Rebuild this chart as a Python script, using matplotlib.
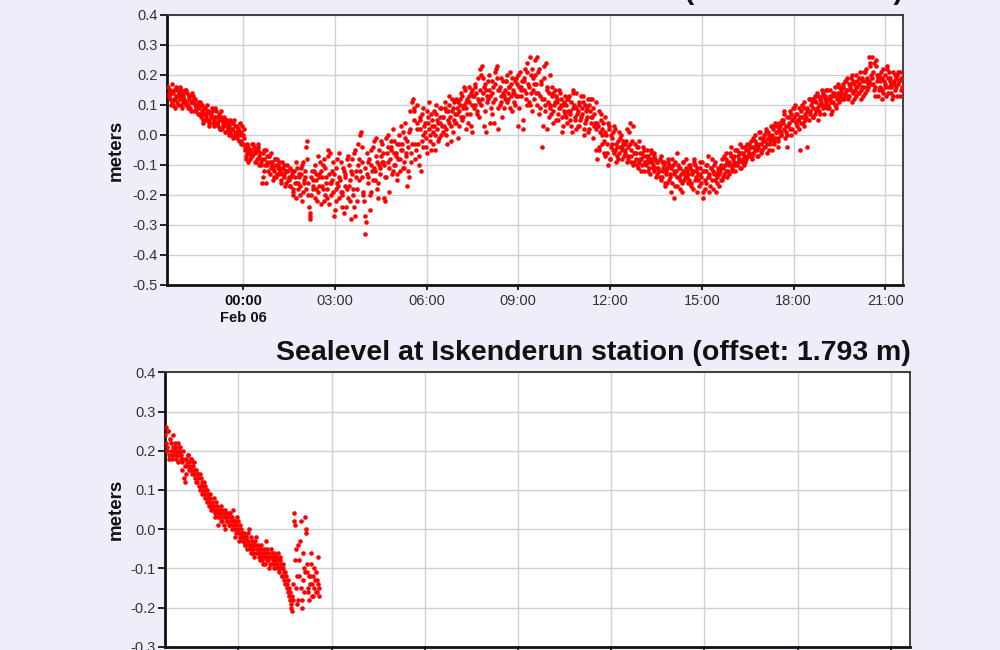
import matplotlib
matplotlib.use("Agg")
import matplotlib.pyplot as plt
import numpy as np
import pandas as pd

# ---------------- data ----------------
top_title = "Sealevel at Erdemli station (offset: 1.000 m)"
bottom_title = "Sealevel at Iskenderun station (offset: 1.793 m)"
ylabel = "meters"

# top station: one row per hour, 3-minute samples, first sample 2023-02-05 21:33
top_start = "2023-02-05 21:33:00"
top_step_min = 3
top_rows = [
    [0.16, 0.12, 0.14, 0.10, 0.15, 0.13, 0.11, 0.14, 0.12, 0.09, 0.13, 0.15, 0.11, 0.10, 0.13, 0.08, 0.11, 0.12, 0.09, 0.10],
    [0.07, 0.10, 0.08, 0.05, 0.09, 0.06, 0.08, 0.04, 0.07, 0.06, 0.03, 0.06, 0.04, 0.07, 0.02, 0.05, 0.03, 0.05, 0.01, 0.04],
    [0.03, 0.00, 0.02, 0.05, 0.01, -0.01, 0.02, 0.00, -0.02, -0.03, -0.05, -0.08, -0.04, -0.06, -0.05, -0.07, -0.04, -0.06, -0.08, -0.05],
    [-0.06, -0.09, -0.14, -0.08, -0.05, -0.10, -0.07, -0.11, -0.09, -0.12, -0.08, -0.13, -0.10, -0.12, -0.15, -0.11, -0.13, -0.16, -0.12, -0.14],
    [-0.17, -0.13, -0.19, -0.14, -0.11, -0.16, -0.20, -0.13, -0.09, -0.15, -0.18, -0.02, -0.24, -0.28, -0.12, -0.17, -0.10, -0.15, -0.19, -0.13],
    [-0.12, -0.18, -0.08, -0.16, -0.21, -0.13, -0.06, -0.15, -0.19, -0.25, -0.11, -0.17, -0.14, -0.09, -0.20, -0.26, -0.13, -0.18, -0.10, -0.22],
    [-0.08, -0.20, -0.27, -0.12, -0.03, -0.15, 0.01, -0.09, -0.22, -0.33, -0.06, -0.14, -0.25, -0.10, -0.04, -0.12, -0.07, -0.16, -0.05, -0.02],
    [-0.03, -0.10, -0.22, -0.06, 0.00, -0.08, -0.04, -0.12, -0.02, -0.07, -0.15, -0.03, 0.03, -0.05, -0.09, -0.01, -0.17, -0.04, 0.02, -0.06],
    [0.12, 0.08, -0.05, 0.02, -0.10, 0.05, -0.02, 0.09, 0.01, -0.06, 0.04, 0.00, 0.07, -0.03, 0.03, 0.10, 0.02, -0.01, 0.06, 0.03],
    [0.06, 0.11, 0.02, 0.08, 0.04, -0.02, 0.09, 0.05, 0.12, 0.07, 0.03, 0.10, 0.13, 0.06, 0.15, 0.09, 0.04, 0.11, 0.14, 0.01],
    [0.13, 0.16, 0.08, 0.11, 0.22, 0.23, 0.14, 0.17, 0.01, 0.12, 0.15, 0.09, 0.18, 0.04, 0.21, 0.23, 0.02, 0.16, 0.11, 0.14],
    [0.15, 0.18, 0.12, 0.16, 0.13, 0.19, 0.14, 0.10, 0.17, 0.13, 0.21, 0.16, 0.05, 0.19, 0.14, 0.24, 0.11, 0.20, 0.08, 0.17],
    [0.20, 0.26, 0.14, 0.09, 0.18, 0.03, 0.12, 0.24, 0.16, 0.06, 0.10, 0.13, 0.08, 0.15, 0.11, 0.05, 0.09, 0.12, 0.03, 0.08],
    [0.10, 0.04, 0.13, 0.07, 0.01, 0.09, 0.05, 0.14, 0.08, 0.03, 0.06, 0.11, 0.00, 0.05, 0.09, 0.02, 0.12, 0.06, -0.01, 0.04],
    [0.11, 0.03, -0.04, 0.05, 0.00, -0.02, 0.06, -0.06, 0.02, -0.08, -0.03, 0.01, -0.05, -0.09, -0.02, -0.06, 0.00, -0.04, -0.07, -0.03],
    [0.02, -0.08, 0.04, -0.05, -0.10, -0.03, -0.06, -0.11, -0.02, -0.08, -0.06, -0.12, -0.09, -0.05, -0.07, -0.13, -0.08, -0.10, -0.06, -0.11],
    [-0.09, -0.12, -0.07, -0.14, -0.10, -0.17, -0.11, -0.08, -0.13, -0.19, -0.10, -0.21, -0.12, -0.06, -0.14, -0.11, -0.16, -0.09, -0.13, -0.12],
    [-0.13, -0.10, -0.16, -0.12, -0.08, -0.14, -0.11, -0.17, -0.13, -0.09, -0.21, -0.15, -0.12, -0.07, -0.14, -0.11, -0.18, -0.10, -0.13, -0.16],
    [-0.17, -0.12, -0.08, -0.14, -0.10, -0.06, -0.12, -0.09, -0.04, -0.11, -0.07, -0.10, -0.05, -0.08, -0.03, -0.09, -0.06, -0.04, -0.08, -0.05],
    [-0.06, -0.02, -0.08, -0.04, 0.00, -0.05, -0.03, 0.01, -0.06, -0.02, -0.04, 0.02, -0.01, -0.05, 0.03, 0.00, -0.03, 0.04, 0.01, -0.02],
    [0.03, 0.00, 0.05, 0.08, 0.01, -0.04, 0.04, 0.07, 0.02, 0.06, 0.10, 0.03, 0.05, -0.05, 0.08, 0.04, 0.11, 0.06, 0.09, 0.05],
    [0.08, 0.11, 0.06, 0.13, 0.09, 0.05, 0.12, 0.10, 0.14, 0.07, 0.11, 0.15, 0.09, 0.12, 0.08, 0.13, 0.16, 0.10, 0.14, 0.11],
    [0.14, 0.17, 0.12, 0.15, 0.19, 0.13, 0.16, 0.11, 0.18, 0.15, 0.20, 0.14, 0.17, 0.12, 0.19, 0.16, 0.21, 0.15, 0.18, 0.24],
    [0.26, 0.17, 0.13, 0.25, 0.19, 0.15, 0.21, 0.12, 0.18, 0.16, 0.22, 0.14, 0.19, 0.17, 0.13, 0.20, 0.16, 0.21, 0.18, 0.15],
]
# interleaved samples of the same station, 1.5 minutes after each of the above
top_start_b = "2023-02-05 21:34:30"
top_rows_b = [
    [0.13, 0.15, 0.11, 0.14, 0.12, 0.16, 0.10, 0.13, 0.15, 0.11, 0.12, 0.10, 0.14, 0.12, 0.09, 0.11, 0.13, 0.10, 0.08, 0.11],
    [0.09, 0.06, 0.10, 0.07, 0.05, 0.08, 0.05, 0.07, 0.09, 0.04, 0.06, 0.08, 0.03, 0.05, 0.06, 0.02, 0.04, 0.01, 0.03, 0.02],
    [0.01, 0.04, -0.01, 0.03, 0.00, 0.02, -0.02, 0.01, 0.03, -0.01, -0.04, -0.06, -0.09, -0.05, -0.07, -0.03, -0.06, -0.09, -0.04, -0.07],
    [-0.08, -0.16, -0.05, -0.10, -0.07, -0.12, -0.09, -0.06, -0.11, -0.14, -0.10, -0.08, -0.13, -0.11, -0.09, -0.14, -0.12, -0.10, -0.15, -0.17],
    [-0.14, -0.18, -0.12, -0.21, -0.16, -0.13, -0.17, -0.10, -0.19, -0.14, -0.04, -0.16, -0.27, -0.20, -0.15, -0.12, -0.18, -0.22, -0.14, -0.09],
    [-0.17, -0.10, -0.20, -0.14, -0.07, -0.23, -0.16, -0.12, -0.27, -0.18, -0.08, -0.21, -0.15, -0.19, -0.11, -0.14, -0.24, -0.07, -0.17, -0.28],
    [-0.13, -0.24, -0.05, -0.18, -0.10, 0.00, -0.14, -0.20, -0.11, -0.29, -0.16, -0.08, -0.19, -0.12, -0.02, -0.15, -0.09, -0.21, -0.11, -0.07],
    [-0.09, -0.21, -0.14, -0.04, -0.11, -0.02, -0.13, -0.06, -0.10, -0.03, -0.08, -0.12, -0.05, 0.01, -0.11, -0.06, -0.02, -0.14, 0.08, -0.03],
    [0.09, -0.08, 0.04, -0.03, 0.06, -0.12, 0.00, 0.03, -0.04, 0.08, 0.02, -0.02, 0.05, 0.01, -0.05, 0.07, 0.04, 0.09, 0.00, 0.06],
    [0.03, 0.08, -0.03, 0.10, 0.06, 0.12, 0.01, 0.07, 0.04, 0.11, 0.08, 0.14, 0.05, 0.10, 0.02, 0.12, 0.16, 0.07, 0.10, 0.13],
    [0.10, 0.14, 0.19, 0.06, 0.20, 0.12, 0.16, 0.08, 0.13, 0.18, 0.04, 0.14, 0.11, 0.17, 0.22, 0.09, 0.15, 0.19, 0.06, 0.13],
    [0.12, 0.20, 0.14, 0.09, 0.17, 0.15, 0.11, 0.19, 0.03, 0.16, 0.13, 0.18, 0.15, 0.22, 0.10, 0.17, 0.26, 0.14, 0.19, 0.12],
    [0.17, 0.10, 0.22, 0.13, -0.04, 0.19, 0.08, 0.15, 0.11, 0.20, 0.07, 0.14, 0.10, 0.05, 0.12, 0.09, 0.14, 0.06, 0.10, 0.13],
    [0.06, 0.12, 0.08, 0.03, 0.14, 0.10, 0.02, 0.07, 0.11, 0.05, 0.09, 0.13, 0.04, 0.08, 0.01, 0.10, 0.06, 0.12, 0.03, -0.05],
    [-0.08, 0.08, 0.01, -0.03, 0.04, -0.07, 0.00, -0.10, 0.03, -0.04, -0.01, -0.06, 0.02, -0.04, -0.08, -0.01, -0.05, -0.03, -0.06, -0.02],
    [-0.04, 0.01, -0.07, -0.02, -0.09, -0.06, -0.10, -0.04, -0.08, -0.12, -0.07, -0.05, -0.10, -0.08, -0.11, -0.06, -0.09, -0.12, -0.08, -0.13],
    [-0.11, -0.08, -0.15, -0.12, -0.09, -0.13, -0.16, -0.10, -0.14, -0.08, -0.12, -0.17, -0.14, -0.10, -0.18, -0.13, -0.09, -0.15, -0.11, -0.14],
    [-0.15, -0.11, -0.13, -0.18, -0.10, -0.12, -0.15, -0.09, -0.14, -0.19, -0.12, -0.16, -0.10, -0.13, -0.17, -0.08, -0.12, -0.15, -0.19, -0.11],
    [-0.13, -0.10, -0.15, -0.07, -0.12, -0.09, -0.13, -0.06, -0.10, -0.08, -0.12, -0.05, -0.09, -0.06, -0.11, -0.04, -0.07, -0.09, -0.03, -0.07],
    [-0.04, -0.07, -0.01, -0.05, -0.03, -0.07, 0.01, -0.03, -0.05, 0.00, -0.02, -0.06, 0.01, -0.03, -0.01, 0.03, -0.02, 0.01, -0.04, 0.02],
    [0.01, 0.05, 0.02, -0.01, 0.06, 0.03, 0.08, 0.00, 0.05, 0.09, 0.04, 0.07, 0.02, 0.06, 0.10, 0.03, 0.07, -0.04, 0.08, 0.12],
    [0.10, 0.06, 0.12, 0.08, 0.14, 0.10, 0.07, 0.13, 0.09, 0.12, 0.15, 0.10, 0.13, 0.07, 0.11, 0.14, 0.09, 0.12, 0.16, 0.13],
    [0.12, 0.16, 0.14, 0.18, 0.13, 0.17, 0.15, 0.20, 0.12, 0.16, 0.18, 0.14, 0.21, 0.16, 0.13, 0.18, 0.22, 0.17, 0.26, 0.20],
    [0.19, 0.24, 0.16, 0.20, 0.13, 0.18, 0.15, 0.22, 0.17, 0.13, 0.19, 0.21, 0.16, 0.12, 0.18, 0.15, 0.20, 0.17, 0.13, 0.19],
]
# further interleaved samples, 2.25 minutes after each of the first set
top_start_c = "2023-02-05 21:35:15"
top_rows_c = [
    [0.14, 0.10, 0.17, 0.12, 0.09, 0.15, 0.13, 0.16, 0.10, 0.14, 0.11, 0.15, 0.09, 0.13, 0.11, 0.14, 0.08, 0.12, 0.10, 0.07],
    [0.11, 0.07, 0.04, 0.09, 0.07, 0.10, 0.03, 0.06, 0.08, 0.05, 0.09, 0.04, 0.06, 0.02, 0.08, 0.04, 0.06, 0.03, 0.05, 0.00],
    [0.05, 0.02, 0.04, 0.00, 0.03, 0.01, 0.04, -0.03, 0.00, 0.02, -0.07, -0.03, -0.05, -0.08, -0.03, -0.06, -0.09, -0.05, -0.03, -0.10],
    [-0.10, -0.06, -0.12, -0.16, -0.09, -0.07, -0.13, -0.10, -0.15, -0.08, -0.14, -0.11, -0.09, -0.16, -0.13, -0.10, -0.17, -0.12, -0.15, -0.11],
    [-0.12, -0.20, -0.16, -0.09, -0.18, -0.14, -0.11, -0.22, -0.16, -0.12, -0.08, -0.20, -0.26, -0.14, -0.18, -0.21, -0.13, -0.07, -0.17, -0.23],
    [-0.14, -0.22, -0.11, -0.18, -0.05, -0.16, -0.20, -0.09, -0.13, -0.22, -0.16, -0.06, -0.19, -0.24, -0.12, -0.17, -0.08, -0.21, -0.15, -0.12],
    [-0.18, -0.06, -0.14, -0.22, -0.08, -0.12, -0.04, -0.19, -0.27, -0.13, -0.09, -0.20, -0.05, -0.15, -0.11, -0.01, -0.18, -0.10, -0.13, -0.09],
    [-0.06, -0.14, -0.01, -0.09, -0.19, -0.05, 0.02, -0.10, -0.06, -0.13, 0.00, -0.08, -0.03, -0.11, 0.04, -0.07, -0.12, 0.01, -0.09, 0.11],
    [0.05, -0.03, 0.10, -0.07, 0.02, 0.07, -0.04, 0.04, -0.01, 0.06, 0.11, -0.05, 0.03, 0.08, 0.00, 0.05, -0.02, 0.04, 0.09, 0.01],
    [0.09, 0.00, 0.05, 0.13, 0.03, 0.08, 0.11, 0.04, 0.09, -0.01, 0.12, 0.06, 0.09, 0.16, 0.11, 0.07, 0.13, 0.03, 0.15, 0.09],
    [0.17, 0.07, 0.12, 0.15, 0.10, 0.19, 0.03, 0.15, 0.11, 0.20, 0.13, 0.07, 0.16, 0.12, 0.19, 0.15, 0.10, 0.13, 0.18, 0.09],
    [0.18, 0.11, 0.16, 0.21, 0.08, 0.14, 0.18, 0.13, 0.20, 0.09, 0.15, 0.02, 0.18, 0.12, 0.21, 0.16, 0.10, 0.22, 0.15, 0.25],
    [0.14, 0.21, 0.07, 0.17, 0.12, 0.23, 0.10, 0.02, 0.14, 0.09, 0.16, 0.04, 0.11, 0.13, 0.07, 0.15, 0.10, 0.01, 0.11, 0.07],
    [0.12, 0.08, 0.05, 0.11, 0.15, 0.06, 0.09, 0.03, 0.10, 0.13, 0.07, 0.02, 0.10, 0.06, 0.12, 0.08, 0.04, 0.09, 0.07, 0.02],
    [0.04, -0.05, 0.07, 0.02, -0.06, 0.01, -0.03, 0.04, -0.08, 0.00, -0.05, 0.03, -0.03, -0.07, 0.01, -0.04, -0.08, -0.02, -0.05, -0.09],
    [-0.07, -0.03, -0.09, 0.03, -0.06, -0.08, -0.04, -0.09, -0.06, -0.10, -0.04, -0.09, -0.07, -0.12, -0.09, -0.05, -0.11, -0.07, -0.14, -0.09],
    [-0.12, -0.14, -0.09, -0.11, -0.16, -0.12, -0.09, -0.15, -0.11, -0.16, -0.13, -0.09, -0.17, -0.11, -0.15, -0.19, -0.12, -0.14, -0.08, -0.16],
    [-0.10, -0.17, -0.12, -0.09, -0.15, -0.19, -0.13, -0.11, -0.16, -0.12, -0.18, -0.10, -0.14, -0.19, -0.11, -0.15, -0.13, -0.09, -0.14, -0.12],
    [-0.11, -0.15, -0.11, -0.13, -0.08, -0.14, -0.10, -0.07, -0.12, -0.09, -0.05, -0.10, -0.07, -0.11, -0.06, -0.08, -0.10, -0.05, -0.07, -0.03],
    [-0.07, -0.04, -0.06, -0.02, -0.07, -0.04, -0.01, -0.05, -0.01, -0.04, 0.01, -0.03, 0.00, -0.02, -0.05, 0.02, -0.01, 0.03, -0.01, 0.04],
    [0.00, 0.04, 0.07, 0.03, 0.00, 0.06, 0.02, 0.05, 0.09, 0.01, 0.07, 0.05, 0.09, 0.04, 0.06, 0.09, 0.05, 0.08, 0.12, 0.07],
    [0.12, 0.09, 0.07, 0.11, 0.13, 0.08, 0.11, 0.15, 0.10, 0.13, 0.09, 0.12, 0.15, 0.11, 0.14, 0.10, 0.13, 0.17, 0.12, 0.15],
    [0.16, 0.13, 0.18, 0.15, 0.12, 0.17, 0.19, 0.14, 0.17, 0.13, 0.16, 0.19, 0.15, 0.18, 0.21, 0.14, 0.19, 0.16, 0.23, 0.17],
    [0.21, 0.15, 0.23, 0.18, 0.20, 0.16, 0.19, 0.14, 0.20, 0.23, 0.16, 0.18, 0.14, 0.21, 0.17, 0.19, 0.13, 0.18, 0.21, 0.16],
]

# Iskenderun: one row per half hour, 2-minute samples, first sample 2023-02-05 21:39
bot_start = "2023-02-05 21:39:00"
bot_step_min = 2
bot_rows = [
    [0.24, 0.26, 0.21, 0.25, 0.18, 0.22, 0.19, 0.24, 0.20, 0.21, 0.18, 0.20, 0.22, 0.19, 0.21],
    [0.19, 0.17, 0.20, 0.13, 0.12, 0.18, 0.16, 0.19, 0.17, 0.15, 0.18, 0.14, 0.16, 0.17, 0.13],
    [0.15, 0.12, 0.14, 0.10, 0.13, 0.09, 0.11, 0.12, 0.08, 0.10, 0.07, 0.09, 0.06, 0.08, 0.05],
    [0.07, 0.05, 0.06, 0.03, 0.07, 0.04, 0.01, 0.05, 0.03, 0.06, 0.02, 0.04, 0.03, 0.00, 0.04],
    [0.02, 0.04, 0.01, 0.03, 0.00, 0.05, 0.02, -0.02, 0.01, 0.03, 0.00, -0.03, 0.01, -0.02, -0.01],
    [-0.03, -0.01, -0.04, -0.02, -0.05, -0.03, 0.00, -0.04, -0.06, -0.03, -0.05, -0.07, -0.04, -0.02, -0.06],
    [-0.05, -0.08, -0.04, -0.07, -0.09, -0.05, -0.06, -0.03, -0.08, -0.06, -0.10, -0.07, -0.05, -0.09, -0.07],
    [-0.06, -0.09, -0.07, -0.10, -0.08, -0.11, -0.07, -0.09, -0.12, -0.10, -0.13, -0.11, -0.15, -0.13, -0.17],
    [-0.16, -0.19, -0.21, -0.18, 0.04, 0.01, -0.05, -0.12, -0.18, -0.08, -0.03, -0.15, -0.20, -0.06, -0.10],
    [0.03, 0.00, -0.09, -0.15, -0.18, -0.12, -0.06, -0.14, -0.17, -0.10, -0.16, -0.13, -0.07, -0.15],
]
# interleaved Iskenderun samples, 1 minute after each of the above
bot_start_b = "2023-02-05 21:40:00"
bot_rows_b = [
    [0.22, 0.20, 0.25, 0.19, 0.23, 0.20, 0.18, 0.21, 0.19, 0.22, 0.20, 0.19, 0.17, 0.21, 0.20],
    [0.18, 0.15, 0.18, 0.16, 0.14, 0.17, 0.19, 0.15, 0.16, 0.18, 0.15, 0.17, 0.14, 0.15, 0.12],
    [0.14, 0.13, 0.11, 0.14, 0.11, 0.12, 0.10, 0.09, 0.11, 0.08, 0.10, 0.08, 0.07, 0.09, 0.06],
    [0.06, 0.08, 0.04, 0.05, 0.06, 0.03, 0.05, 0.04, 0.02, 0.05, 0.04, 0.01, 0.05, 0.03, 0.02],
    [0.03, 0.01, 0.04, 0.02, 0.03, 0.01, 0.00, 0.02, -0.01, 0.00, 0.02, -0.01, -0.02, 0.00, -0.03],
    [-0.02, -0.04, -0.02, -0.03, -0.01, -0.04, -0.05, -0.02, -0.04, -0.06, -0.04, -0.03, -0.06, -0.05, -0.04],
    [-0.07, -0.06, -0.05, -0.08, -0.06, -0.07, -0.09, -0.07, -0.05, -0.08, -0.07, -0.09, -0.06, -0.08, -0.10],
    [-0.08, -0.07, -0.09, -0.06, -0.10, -0.08, -0.10, -0.12, -0.09, -0.11, -0.14, -0.12, -0.14, -0.16, -0.15],
    [-0.18, -0.20, -0.17, -0.14, 0.02, -0.08, -0.15, -0.19, -0.04, -0.12, 0.02, -0.18, -0.13, -0.16, -0.11],
    [-0.01, -0.11, -0.16, -0.12, -0.14, -0.09, -0.17, -0.12, -0.15, -0.13, -0.11, -0.16, -0.14, -0.17],
]

tick_hours = [0, 3, 6, 9, 12, 15, 18, 21]
tick_labels = ["00:00\nFeb 06", "03:00", "06:00", "09:00", "12:00", "15:00", "18:00", "21:00"]
top_yticks = [0.4, 0.3, 0.2, 0.1, 0.0, -0.1, -0.2, -0.3, -0.4, -0.5]
bot_yticks = [0.4, 0.3, 0.2, 0.1, 0.0, -0.1, -0.2, -0.3]


# ---------------- build series ----------------
def series(start, step_min, rows):
    vals = np.concatenate([np.array(r, dtype=float) for r in rows])
    times = pd.date_range(start, periods=len(vals), freq=f"{step_min}min")
    return times, vals


top_a = series(top_start, top_step_min, top_rows)
top_b = series(top_start_b, top_step_min, top_rows_b)
top_c = series(top_start_c, top_step_min, top_rows_c)
bot_a = series(bot_start, bot_step_min, bot_rows)
bot_b = series(bot_start_b, bot_step_min, bot_rows_b)

day0 = pd.Timestamp("2023-02-06 00:00")
tick_dates = [day0 + pd.Timedelta(hours=h) for h in tick_hours]

BG = "#eeeefb"
plt.rcParams["font.family"] = ["Liberation Sans", "DejaVu Sans"]

fig = plt.figure(figsize=(10, 6.5), dpi=100, facecolor=BG)
W, H = 1000.0, 650.0


def make_axes(l, r, t, b):
    return fig.add_axes([l / W, 1 - b / H, (r - l) / W, (b - t) / H])


ax1 = make_axes(166.7, 902.7, 15, 285)
ax2 = make_axes(165, 910, 372.3, 646.7)


def style(ax, parts, xlim, ylim, yticks):
    ax.set_facecolor("white")
    for times, vals in parts:
        ax.plot(times, vals, linestyle="none", marker="o", ms=3.3, mew=0,
                color="#ff0000", zorder=3)
    ax.set_xlim(pd.Timestamp(xlim[0]), pd.Timestamp(xlim[1]))
    ax.set_ylim(*ylim)
    ax.set_yticks(yticks)
    ax.set_yticklabels([f"{v:.1f}" for v in yticks])
    ax.set_xticks(tick_dates)
    ax.set_xticklabels(tick_labels)
    ax.grid(True, color="#d0d0d0", lw=1.0, zorder=0)
    ax.set_axisbelow(True)
    for s in ["left", "bottom"]:
        ax.spines[s].set_linewidth(2.0)
        ax.spines[s].set_color("#111111")
    for s in ["top", "right"]:
        ax.spines[s].set_linewidth(1.3)
        ax.spines[s].set_color("#333333")
    ax.tick_params(axis="y", direction="out", length=5, width=1.2,
                   labelsize=10.5, labelcolor="#333333", pad=1.5)
    ax.tick_params(axis="x", direction="out", length=3.5, width=1.2,
                   labelsize=10.5, labelcolor="#333333", pad=3)
    lbl = ax.get_xticklabels()[0]
    lbl.set_fontweight("bold")
    lbl.set_color("#111111")
    lbl.set_linespacing(1.25)


style(ax1, [top_a, top_b, top_c], ("2023-02-05 21:30:20", "2023-02-06 21:34"),
      (-0.5, 0.4), top_yticks)
style(ax2, [bot_a, bot_b], ("2023-02-05 21:38:20", "2023-02-06 21:37"),
      (-0.3, 0.4), bot_yticks)

fig.text(116 / W, 1 - 150 / H, ylabel, rotation=90, ha="center", va="center",
         fontsize=13.5, fontweight="bold", color="#111111")
fig.text(116 / W, 1 - 509.5 / H, ylabel, rotation=90, ha="center", va="center",
         fontsize=13.5, fontweight="bold", color="#111111")

fig.text(911 / W, 1 - 360 / H, bottom_title, ha="right", va="baseline",
         fontsize=20.5, fontweight="bold", color="#111111")
fig.text(903 / W, 1 + 1 / H, top_title, ha="right", va="baseline",
         fontsize=20.5, fontweight="bold", color="#111111")

fig.savefig("out.png", dpi=100, facecolor=BG)
